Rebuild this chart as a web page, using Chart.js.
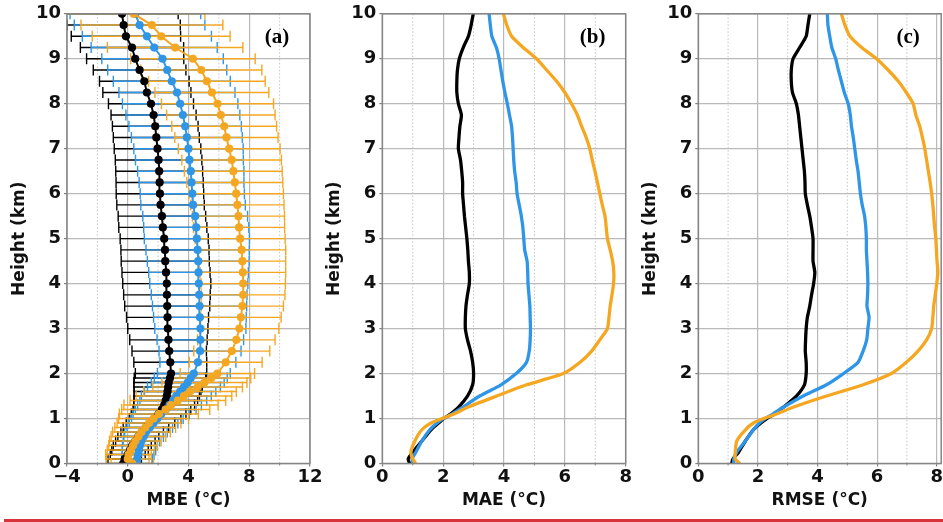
<!DOCTYPE html>
<html>
<head>
<meta charset="utf-8">
<script src="https://cdn.jsdelivr.net/npm/chart.js@4.4.1/dist/chart.umd.min.js"></script>
<style>
  body { margin: 0; background: #fff; }
  #wrap { position: relative; width: 943px; height: 522px; overflow: hidden; }
  #wrap canvas { position: absolute; left: 0; top: 0; }
  #redline { position: absolute; left: 4px; top: 519px; width: 939px; height: 3px; background: #d8333b; }
</style>
</head>
<body>
<div id="wrap">
  <canvas id="panelA" width="943" height="522"></canvas>
  <canvas id="panelB" width="943" height="522"></canvas>
  <canvas id="panelC" width="943" height="522"></canvas>
  <div id="redline"></div>
</div>
<script>
// heights (km) for panel (a): every 0.1 km up to 2 km, then every 0.25 km
const heightsA = [0, 0.1, 0.2, 0.3, 0.4, 0.5, 0.6, 0.7, 0.8, 0.9, 1.0, 1.1, 1.2, 1.3, 1.4, 1.5, 1.6, 1.7, 1.8, 1.9, 2.0,
  2.25, 2.5, 2.75, 3.0, 3.25, 3.5, 3.75, 4.0, 4.25, 4.5, 4.75, 5.0, 5.25, 5.5, 5.75, 6.0, 6.25, 6.5, 6.75, 7.0,
  7.25, 7.5, 7.75, 8.0, 8.25, 8.5, 8.75, 9.0, 9.25, 9.5, 9.75, 10.0];

// MBE mean and spread (°C)
const mbeBlack = [-0.3, -0.2, 0.0, 0.15, 0.3, 0.5, 0.7, 0.95, 1.2, 1.5, 1.8, 2.03, 2.25, 2.4, 2.5, 2.57, 2.62, 2.66, 2.7, 2.78, 2.85,
  2.8, 2.73, 2.68, 2.64, 2.62, 2.6, 2.58, 2.57, 2.52, 2.47, 2.45, 2.4, 2.31, 2.25, 2.16, 2.12, 2.1, 2.07, 2.03, 1.96,
  1.88, 1.81, 1.7, 1.53, 1.26, 1.09, 0.78, 0.49, 0.28, -0.12, -0.27, -0.38];
const mbeBlackSd = [1.1, 1.1, 1.15, 1.2, 1.25, 1.3, 1.35, 1.4, 1.5, 1.6, 1.7, 1.8, 1.9, 2.0, 2.1, 2.15, 2.2, 2.25, 2.3, 2.35, 2.35,
  2.4, 2.45, 2.55, 2.64, 2.7, 2.8, 2.85, 2.9, 2.9, 2.9, 2.9, 2.9, 2.9, 2.88, 2.88, 2.88, 2.87, 2.86, 2.85, 2.85,
  2.83, 2.82, 2.8, 2.8, 2.9, 2.95, 3.05, 3.2, 3.4, 3.6, 3.73, 3.7];

const mbeBlue = [0.6, 0.62, 0.68, 0.74, 0.8, 0.9, 1.05, 1.2, 1.45, 1.7, 1.95, 2.2, 2.5, 2.75, 3.0, 3.2, 3.45, 3.7, 3.95, 4.15, 4.35,
  4.62, 4.76, 4.78, 4.78, 4.75, 4.73, 4.7, 4.68, 4.66, 4.64, 4.6, 4.55, 4.51, 4.44, 4.3, 4.25, 4.2, 4.15, 4.06, 4.0,
  3.89, 3.78, 3.63, 3.45, 3.24, 2.9, 2.6, 2.29, 1.74, 1.26, 0.78, 0.5];
const mbeBlueSd = [1.0, 1.0, 1.05, 1.1, 1.15, 1.2, 1.3, 1.4, 1.5, 1.6, 1.7, 1.85, 2.0, 2.1, 2.2, 2.3, 2.35, 2.4, 2.4, 2.4, 2.4,
  2.5, 2.7, 2.85, 3.0, 3.05, 3.1, 3.15, 3.23, 3.28, 3.35, 3.4, 3.46, 3.46, 3.45, 3.44, 3.43, 3.45, 3.5, 3.55, 3.6,
  3.65, 3.7, 3.75, 3.8, 3.82, 3.85, 3.92, 4.0, 4.15, 4.25, 4.3, 4.3];

const mbeOrange = [0.3, 0.0, 0.05, 0.2, 0.35, 0.5, 0.7, 0.9, 1.15, 1.4, 1.7, 2.05, 2.5, 2.85, 3.3, 3.7, 4.1, 4.6, 5.05, 5.5, 5.9,
  6.45, 6.85, 7.15, 7.35, 7.45, 7.55, 7.6, 7.6, 7.58, 7.55, 7.5, 7.4, 7.33, 7.29, 7.22, 7.14, 7.05, 6.95, 6.84, 6.68,
  6.5, 6.35, 6.13, 5.91, 5.54, 5.21, 4.84, 4.29, 3.12, 2.2, 1.59, 0.38];
const mbeOrangeSd = [1.4, 1.4, 1.5, 1.55, 1.6, 1.7, 1.8, 1.9, 2.0, 2.1, 2.3, 2.6, 2.9, 3.1, 3.15, 3.15, 3.05, 2.95, 2.8, 2.6, 2.45,
  2.4, 2.5, 2.55, 2.6, 2.65, 2.7, 2.75, 2.78, 2.82, 2.85, 2.9, 2.96, 3.0, 3.03, 3.07, 3.11, 3.16, 3.22, 3.28, 3.35,
  3.4, 3.45, 3.57, 3.69, 3.75, 3.84, 3.99, 4.1, 4.46, 4.54, 4.67, 4.7];

// heights (km) for panels (b) and (c)
const heightsB = [0, 0.1, 0.25, 0.5, 0.75, 0.9, 1.0, 1.1, 1.25, 1.5, 1.75, 2.0, 2.25, 2.5, 2.75, 3.0, 3.25, 3.5, 3.75, 4.0,
  4.25, 4.5, 4.75, 5.0, 5.25, 5.5, 5.75, 6.0, 6.25, 6.5, 6.75, 7.0, 7.25, 7.5, 7.75, 8.0, 8.25, 8.5, 8.75, 9.0,
  9.25, 9.5, 9.75, 10.0];

const maeBlack = [0.9, 0.85, 1.0, 1.3, 1.6, 1.85, 2.02, 2.24, 2.5, 2.8, 2.97, 3.0, 2.97, 2.9, 2.8, 2.73, 2.73, 2.75, 2.8, 2.86,
  2.86, 2.83, 2.81, 2.78, 2.74, 2.7, 2.67, 2.64, 2.64, 2.61, 2.57, 2.5, 2.52, 2.55, 2.6, 2.5, 2.45, 2.45, 2.47, 2.53,
  2.66, 2.83, 2.92, 2.99];
const maeBlue = [1.0, 0.98, 1.1, 1.3, 1.56, 1.8, 2.0, 2.3, 2.64, 3.2, 3.9, 4.4, 4.74, 4.83, 4.86, 4.87, 4.86, 4.85, 4.82, 4.79,
  4.78, 4.76, 4.68, 4.65, 4.62, 4.57, 4.5, 4.43, 4.4, 4.35, 4.32, 4.3, 4.28, 4.25, 4.18, 4.11, 4.03, 3.96, 3.9, 3.84,
  3.75, 3.6, 3.55, 3.51];
const maeOrange = [1.1, 1.0, 0.94, 1.07, 1.3, 1.6, 1.96, 2.35, 2.8, 3.76, 4.74, 5.95, 6.5, 6.88, 7.15, 7.4, 7.45, 7.49, 7.55, 7.6,
  7.61, 7.57, 7.49, 7.4, 7.36, 7.32, 7.23, 7.15, 7.07, 6.99, 6.9, 6.82, 6.7, 6.55, 6.41, 6.22, 6.0, 5.73, 5.4, 5.07,
  4.63, 4.25, 4.09, 3.98];

const rmseBlack = [1.12, 1.16, 1.35, 1.58, 1.85, 2.1, 2.3, 2.55, 2.85, 3.29, 3.56, 3.62, 3.62, 3.59, 3.6, 3.62, 3.66, 3.74, 3.8, 3.87,
  3.91, 3.85, 3.85, 3.85, 3.8, 3.74, 3.66, 3.59, 3.58, 3.56, 3.52, 3.48, 3.44, 3.4, 3.36, 3.29, 3.16, 3.12, 3.12, 3.18,
  3.4, 3.62, 3.68, 3.74];
const rmseBlue = [1.19, 1.19, 1.29, 1.58, 1.85, 2.05, 2.24, 2.5, 2.85, 3.52, 4.3, 4.87, 5.36, 5.53, 5.65, 5.69, 5.73, 5.66, 5.68, 5.69,
  5.68, 5.66, 5.64, 5.64, 5.62, 5.58, 5.5, 5.44, 5.4, 5.36, 5.3, 5.25, 5.2, 5.14, 5.1, 5.03, 4.9, 4.8, 4.7, 4.61,
  4.48, 4.41, 4.35, 4.33];
const rmseOrange = [1.4, 1.24, 1.24, 1.29, 1.58, 1.85, 2.19, 2.63, 3.18, 4.3, 5.53, 6.48, 6.98, 7.37, 7.66, 7.83, 7.87, 7.9, 7.95, 8.0,
  8.04, 8.01, 7.99, 7.97, 7.93, 7.9, 7.87, 7.83, 7.78, 7.72, 7.66, 7.6, 7.52, 7.43, 7.3, 7.21, 6.98, 6.71, 6.37, 5.98,
  5.48, 5.09, 4.92, 4.8];

const BLACK = '#000000';
const BLUE = '#2f96e7';
const ORANGE = '#f6a722';

Chart.defaults.font.family = 'DejaVu Sans';
Chart.defaults.color = '#111';

const pts = (vals, hs) => vals.map((v, i) => ({ x: v, y: hs[i] }));

// dotted minor grid, minor ticks, and the box around the plot
const frame = {
  id: 'frame',
  beforeDatasetsDraw(chart) {
    const { ctx, chartArea: a, scales: { x } } = chart;
    const t = x.ticks.map(k => k.value);
    ctx.save();
    for (let i = 0; i < t.length - 1; i++) {
      const px = x.getPixelForValue((t[i] + t[i + 1]) / 2);
      ctx.strokeStyle = '#c4c4c4';
      ctx.lineWidth = 1;
      ctx.setLineDash([1.5, 2]);
      ctx.beginPath(); ctx.moveTo(px, a.top); ctx.lineTo(px, a.bottom); ctx.stroke();
      ctx.setLineDash([]);
      ctx.strokeStyle = '#808080';
      ctx.beginPath(); ctx.moveTo(px, a.bottom); ctx.lineTo(px, a.bottom + 2); ctx.stroke();
    }
    ctx.restore();
  },
  afterDatasetsDraw(chart) {
    const { ctx, chartArea: a } = chart;
    ctx.save();
    ctx.strokeStyle = '#858585';
    ctx.lineWidth = 1.5;
    ctx.strokeRect(a.left, a.top, a.width, a.height);
    ctx.restore();
  }
};

// horizontal error bars with caps, from dataset.errors
const errorBars = {
  id: 'errorBars',
  beforeDatasetsDraw(chart) {
    const { ctx, chartArea: a, scales: { x, y } } = chart;
    ctx.save();
    ctx.beginPath(); ctx.rect(a.left, a.top, a.width, a.height); ctx.clip();
    const sets = chart.data.datasets.filter(d => d.errors).sort((p, q) => q.order - p.order);
    sets.forEach(ds => {
      ctx.strokeStyle = ds.borderColor;
      ctx.lineWidth = 1.4;
      ds.data.forEach((p, i) => {
        const e = ds.errors[i];
        const x1 = x.getPixelForValue(p.x - e);
        const x2 = x.getPixelForValue(p.x + e);
        const py = y.getPixelForValue(p.y);
        ctx.beginPath();
        ctx.moveTo(x1, py); ctx.lineTo(x2, py);
        ctx.moveTo(x1, py - 5.5); ctx.lineTo(x1, py + 5.5);
        ctx.moveTo(x2, py - 5.5); ctx.lineTo(x2, py + 5.5);
        ctx.stroke();
      });
    });
    ctx.restore();
  }
};

function tag(text) {
  return {
    id: 'tag',
    afterDraw(chart) {
      const { ctx, chartArea: a } = chart;
      ctx.save();
      ctx.font = 'bold 21px "Liberation Serif"';
      ctx.fillStyle = '#000';
      ctx.textAlign = 'center';
      ctx.textBaseline = 'middle';
      ctx.fillText(text, a.right - 33, a.top + 24);
      ctx.restore();
    }
  };
}

const tickFont = { family: 'DejaVu Sans', weight: 'bold', size: 18, lineHeight: 1.2 };
const titleFont = { family: 'DejaVu Sans', weight: 'bold', size: 17, lineHeight: 1.2 };

function panel(id, o) {
  return new Chart(document.getElementById(id), {
    type: 'line',
    data: { datasets: o.datasets },
    options: {
      responsive: false,
      animation: false,
      events: [],
      layout: { padding: { left: o.left, right: o.right, top: 13.5, bottom: 0 } },
      plugins: { legend: { display: false }, tooltip: { enabled: false } },
      scales: {
        x: {
          type: 'linear', min: o.xmin, max: o.xmax,
          ticks: {
            stepSize: o.step, includeBounds: false, padding: 0, color: '#111', font: tickFont,
            maxRotation: 0,
            callback: v => (v < 0 ? '\u2212' + Math.abs(v) : String(v))
          },
          grid: { color: '#b9b9b9', lineWidth: 1.2, tickLength: 3, tickColor: '#808080' },
          border: { display: false },
          title: { display: true, text: o.xtitle, font: titleFont, color: '#111', padding: { top: 0, bottom: 11 } },
          afterFit: s => { s.height = 58.5; }
        },
        y: {
          type: 'linear', min: 0, max: 10,
          ticks: { stepSize: 1, padding: 3, color: '#111', font: tickFont },
          grid: { color: '#b9b9b9', lineWidth: 1.2, tickLength: 3, tickColor: '#808080' },
          border: { display: false },
          title: { display: true, text: 'Height (km)', font: titleFont, color: '#111', padding: { top: 9, bottom: 0 } },
          afterFit: s => { s.width = 67; }
        }
      }
    },
    plugins: [frame, errorBars, tag(o.tag)]
  });
}

function dotSeries(vals, sd, color, order) {
  return {
    data: pts(vals, heightsA), errors: sd, order,
    borderColor: color, backgroundColor: color, borderWidth: 2,
    pointRadius: 4.1, pointBorderWidth: 0, pointBackgroundColor: color, tension: 0
  };
}

function lineSeries(vals, color, order) {
  return {
    data: pts(vals, heightsB), order,
    borderColor: color, backgroundColor: color, borderWidth: 3.3,
    pointRadius: 0, tension: 0.2
  };
}

panel('panelA', {
  left: 0, right: 633, xmin: -4, xmax: 12, step: 4, xtitle: 'MBE (°C)', tag: '(a)',
  datasets: [
    dotSeries(mbeBlack, mbeBlackSd, BLACK, 3),
    dotSeries(mbeBlue, mbeBlueSd, BLUE, 2),
    dotSeries(mbeOrange, mbeOrangeSd, ORANGE, 1)
  ]
});

panel('panelB', {
  left: 315.3, right: 317.3, xmin: 0, xmax: 8, step: 2, xtitle: 'MAE (°C)', tag: '(b)',
  datasets: [
    lineSeries(maeBlack, BLACK, 3),
    lineSeries(maeBlue, BLUE, 2),
    lineSeries(maeOrange, ORANGE, 1)
  ]
});

panel('panelC', {
  left: 631.3, right: 1.3, xmin: 0, xmax: 8.15, step: 2, xtitle: 'RMSE (°C)', tag: '(c)',
  datasets: [
    lineSeries(rmseBlack, BLACK, 3),
    lineSeries(rmseBlue, BLUE, 2),
    lineSeries(rmseOrange, ORANGE, 1)
  ]
});
</script>
</body>
</html>
